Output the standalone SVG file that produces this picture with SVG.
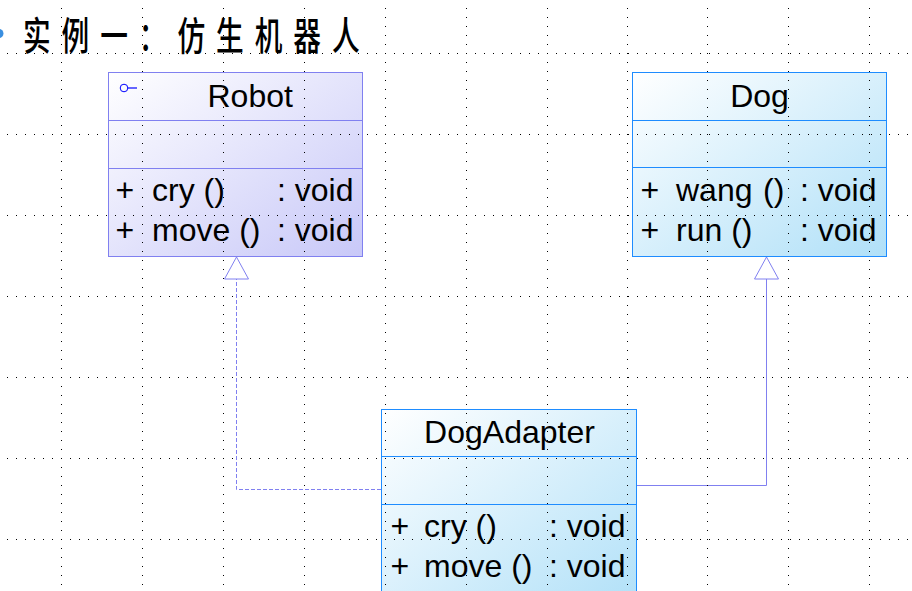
<svg xmlns="http://www.w3.org/2000/svg" width="912" height="591" viewBox="0 0 912 591">
  <style>
    .t { font-family: "Liberation Sans", Arial, sans-serif; font-size: 32px; fill: #000; }
    .h { font-family: "Liberation Sans", Arial, sans-serif; font-size: 32px; fill: #000; }
    .robot { stroke: #8080f0; stroke-width: 1; }
    .blue { stroke: #1e8cff; stroke-width: 1; }
    .conn { fill: none; stroke: #8080f0; stroke-width: 1; }
    .grid line { stroke: #000; stroke-width: 1; stroke-dasharray: 1 8; }
  </style>
  <defs>
    <linearGradient id="gRobot" x1="0" y1="0" x2="1" y2="1">
      <stop offset="0" stop-color="#ffffff"/>
      <stop offset="1" stop-color="#c8c8f8"/>
    </linearGradient>
    <linearGradient id="gDog" x1="0" y1="0" x2="1" y2="1">
      <stop offset="0" stop-color="#ffffff"/>
      <stop offset="1" stop-color="#b0e0f8"/>
    </linearGradient>
    <marker id="tri" viewBox="-1 -1 24 26" refX="22" refY="12" markerWidth="24" markerHeight="26" markerUnits="userSpaceOnUse" orient="auto">
      <path d="M0,0 L22,12 L0,24 Z" fill="#ffffff" stroke="#8080f0" stroke-width="1" stroke-dasharray="none"/>
    </marker>
  </defs>
  <rect width="912" height="591" fill="#ffffff"/>

  <circle cx="-1" cy="33.5" r="4.5" fill="#3a8fe0"/>
  <text transform="translate(23,50) scale(0.71 1)" font-family="'Noto Sans CJK SC', 'Noto Sans CJK JP', sans-serif" font-size="39" font-weight="500" letter-spacing="15.4" fill="#000">实例一：仿生机器人</text>

  <g id="connectors">
    <path class="conn" d="M381,489.5 H236.5 V257" stroke-dasharray="4 2" marker-end="url(#tri)"/>
    <path class="conn" d="M637,485.5 H766.5 V257" marker-end="url(#tri)"/>
  </g>

  <g id="Robot">
    <rect class="robot" x="108.5" y="72.5" width="254" height="184" fill="url(#gRobot)"/>
    <line class="robot" x1="108.5" y1="120.5" x2="362.5" y2="120.5"/>
    <line class="robot" x1="108.5" y1="168.5" x2="362.5" y2="168.5"/>
    <circle cx="124" cy="88" r="3.8" fill="none" stroke="#0000ff" stroke-width="1"/>
    <line x1="128" y1="88" x2="137" y2="88" stroke="#0000ff" stroke-width="1.2"/>
    <text class="h" x="207.5" y="107">Robot</text>
    <text class="t" x="115.5" y="201">+</text>
    <text class="t" x="152" y="201">cry ()</text>
    <text class="t" x="277" y="201">: void</text>
    <text class="t" x="115.5" y="241">+</text>
    <text class="t" x="152" y="241">move ()</text>
    <text class="t" x="277" y="241">: void</text>
  </g>

  <g id="Dog">
    <rect class="blue" x="632.5" y="72.5" width="254" height="184" fill="url(#gDog)"/>
    <line class="blue" x1="632.5" y1="120.5" x2="886.5" y2="120.5"/>
    <line class="blue" x1="632.5" y1="167.5" x2="886.5" y2="167.5"/>
    <text class="h" x="759.5" y="107" text-anchor="middle">Dog</text>
    <text class="t" x="640.5" y="201">+</text>
    <text class="t" x="676" y="201">wang <tspan x="763">()</tspan></text>
    <text class="t" x="800" y="201">: void</text>
    <text class="t" x="640.5" y="241">+</text>
    <text class="t" x="676" y="241">run ()</text>
    <text class="t" x="800" y="241">: void</text>
  </g>

  <g id="DogAdapter">
    <rect class="blue" x="381.5" y="409.5" width="255" height="200" fill="url(#gDog)"/>
    <line class="blue" x1="381.5" y1="456.5" x2="636.5" y2="456.5"/>
    <line class="blue" x1="381.5" y1="504.5" x2="636.5" y2="504.5"/>
    <text class="h" x="509.5" y="443" text-anchor="middle">DogAdapter</text>
    <text class="t" x="390.5" y="537">+</text>
    <text class="t" x="424" y="537">cry ()</text>
    <text class="t" x="549" y="537">: void</text>
    <text class="t" x="390.5" y="577">+</text>
    <text class="t" x="424" y="577">move ()</text>
    <text class="t" x="549" y="577">: void</text>
  </g>

  <g class="grid">
    <line x1="61.5" y1="8" x2="61.5" y2="591"/>
    <line x1="142.5" y1="8" x2="142.5" y2="591"/>
    <line x1="223.5" y1="8" x2="223.5" y2="591"/>
    <line x1="304.5" y1="8" x2="304.5" y2="591"/>
    <line x1="385.5" y1="8" x2="385.5" y2="591"/>
    <line x1="466.5" y1="8" x2="466.5" y2="591"/>
    <line x1="547.5" y1="8" x2="547.5" y2="591"/>
    <line x1="627.5" y1="8" x2="627.5" y2="591"/>
    <line x1="707.5" y1="8" x2="707.5" y2="591"/>
    <line x1="788.5" y1="8" x2="788.5" y2="591"/>
    <line x1="869.5" y1="8" x2="869.5" y2="591"/>
    <line x1="7" y1="53.5" x2="912" y2="53.5"/>
    <line x1="7" y1="134.5" x2="912" y2="134.5"/>
    <line x1="7" y1="215.5" x2="912" y2="215.5"/>
    <line x1="7" y1="296.5" x2="912" y2="296.5"/>
    <line x1="7" y1="377.5" x2="912" y2="377.5"/>
    <line x1="7" y1="458.5" x2="912" y2="458.5"/>
    <line x1="7" y1="539.5" x2="912" y2="539.5"/>
  </g>
</svg>
